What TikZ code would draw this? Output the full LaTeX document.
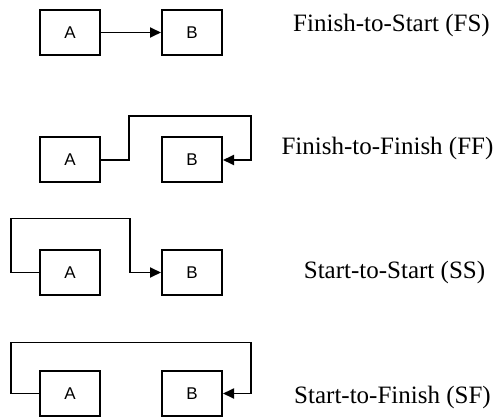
\documentclass[tikz,border=0pt]{standalone}
\usepackage{fontspec}
\setmainfont{Liberation Serif}
\newfontfamily\boxfont{Liberation Sans}
\usetikzlibrary{arrows.meta,positioning}

\begin{document}
\begin{tikzpicture}[x=0.5pt,y=-0.5pt,
  task/.style={draw,line width=1pt,minimum width=30pt,minimum height=22.5pt,inner sep=0pt,font=\boxfont\fontsize{8.5}{10}\selectfont},
  link/.style={line width=0.9pt,-{Triangle[length=5.5pt,width=5pt]}},
  kind/.style={anchor=base,font=\fontsize{12.5}{15}\selectfont},
  node distance=30pt]
\useasboundingbox (0,0) rectangle (501,416);

% finish-to-start
\node[task] (fsA) at (70,32.5) {A};
\node[task,right=of fsA] (fsB) {B};
\draw[link] (fsA) -- (fsB);
\node[kind] (fs) at (391.5,32) {Finish-to-Start (FS)};

% finish-to-finish
\node[task] (ffA) at (70,160) {A};
\node[task,right=of ffA] (ffB) {B};
\draw[link] (ffA.east) -- ++(28,0) -- ++(0,-44) -| ([xshift=14pt]ffB.east) -- (ffB.east);
\node[kind] (ff) at (387.5,155) {Finish-to-Finish (FF)};

% start-to-start
\node[task] (ssA) at (70,272.5) {A};
\node[task,right=of ssA] (ssB) {B};
\draw[link] (ssA.west) -- ++(-28,0) -- ++(0,-54) -- ++(119,0) |- (ssB.west);
\node[kind] (ss) at (394.5,278) {Start-to-Start (SS)};

% start-to-finish
\node[task] (sfA) at (70,393.5) {A};
\node[task,right=of sfA] (sfB) {B};
\draw[link] (sfA.west) -- ++(-28,0) -- ++(0,-51) -| ([xshift=14pt]sfB.east) -- (sfB.east);
\node[kind] (sf) at (392.5,403) {Start-to-Finish (SF)};
\end{tikzpicture}
\end{document}
